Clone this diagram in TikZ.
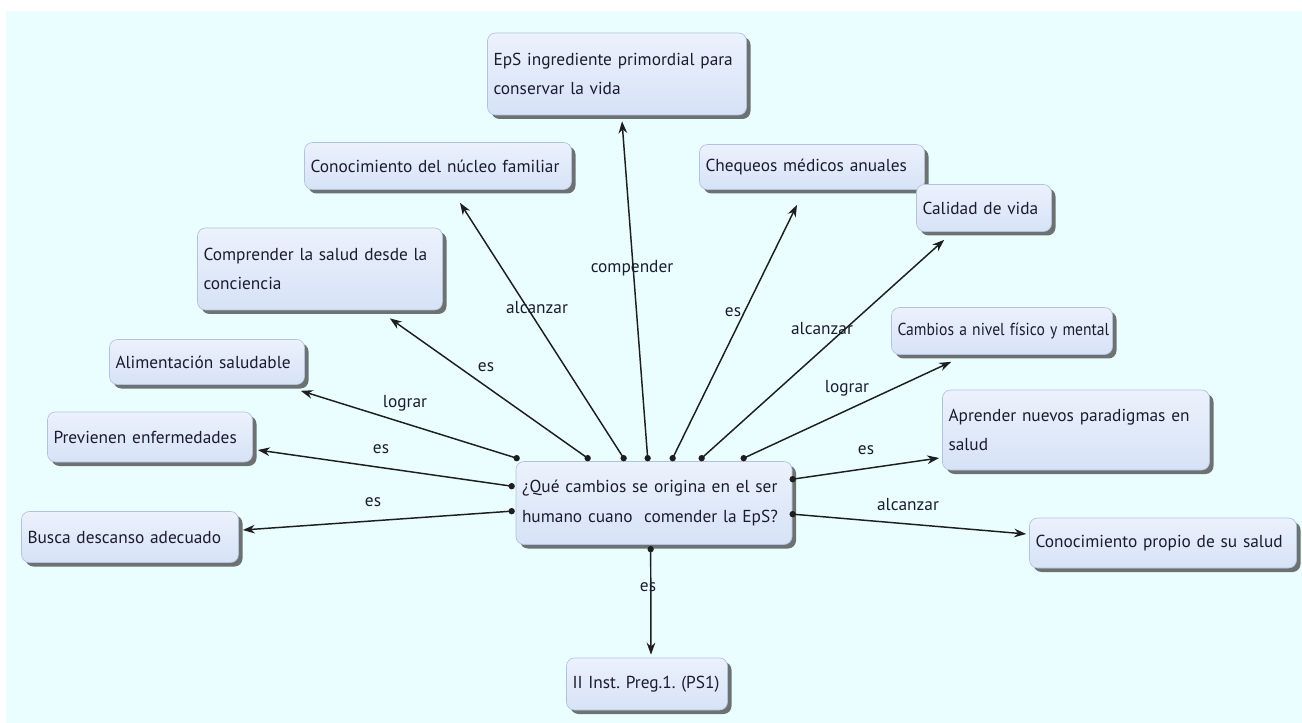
\documentclass[tikz,border=0pt]{standalone}
\usepackage{fontspec}
\setmainfont{PT Sans}
\usetikzlibrary{shadows,arrows.meta,calc}
\definecolor{bgcyan}{RGB}{234,254,255}
\definecolor{boxtop}{RGB}{236,242,252}
\definecolor{boxbot}{RGB}{214,226,246}
\definecolor{boxedge}{RGB}{176,194,222}
\definecolor{textc}{RGB}{28,28,48}
\definecolor{linec}{RGB}{30,30,30}
\tikzset{
  concept/.style={rectangle, rounded corners=6pt, draw=boxedge, line width=0.5pt,
    top color=boxtop, bottom color=boxbot, text=textc, align=left,
    inner xsep=4.5pt, inner ysep=2pt,
    drop shadow={shadow xshift=3pt, shadow yshift=-3pt, fill=black!65, opacity=0.85}},
  cbox/.style n args={2}{concept, text width=#1pt, minimum height=#2pt},
  conn/.style={draw=linec, line width=1.1pt, -{Stealth[length=9pt,width=6.5pt]}},
  lbl/.style={text=textc, inner sep=1pt},
  dotmark/.style={fill=linec}
}
\begin{document}
\frenchspacing
\begin{tikzpicture}[x=0.75pt,y=-0.75pt,font=\fontsize{13}{22}\selectfont]
\useasboundingbox (0,0) rectangle (1302,723);
\fill[white] (0,0) rectangle (1302,723);
\fill[bgcyan] (6,11) rectangle (1302,723);

% central question
\node[cbox={198}{62.25}] (q) at (654,503)
  {\mbox{¿Qué cambios se origina en el ser}\\\mbox{humano cuano\ \ comender la EpS?}};

% surrounding concepts
\node[cbox={185.25}{61.5}] (eps) at (617,74) {\mbox{EpS ingrediente primordial para}\\conservar la vida};
\node[cbox={191.25}{35.25}] (nuc) at (438,166) {\mbox{Conocimiento del núcleo familiar}};
\node[cbox={159.75}{33.75}] (cheq) at (812,167) {\mbox{Chequeos médicos anuales}};
\node[cbox={92.25}{35.25}] (cal) at (984,208) {\mbox{Calidad de vida}};
\node[cbox={174.75}{61.5}] (comp) at (320,269) {\mbox{Comprender la salud desde la}\\conciencia};
\node[cbox={137.25}{33.75}] (alim) at (207,362) {\mbox{Alimentación saludable}};
\node[cbox={156.75}{35.25}] (cam) at (1002,331) {\scalebox{0.9}[1]{Cambios a nivel físico y mental}};
\node[cbox={144.75}{37.5}] (prev) at (150,437) {\mbox{Previenen enfermedades}};
\node[cbox={191.25}{60}] (apr) at (1076,430) {\mbox{Aprender nuevos paradigmas en}\\salud};
\node[cbox={153.75}{38.25}] (busca) at (130,537) {\mbox{Busca descanso adecuado}};
\node[cbox={191.25}{37.5}] (prop) at (1163,543) {\mbox{Conocimiento propio de su salud}};
\node[cbox={111.75}{39}] (inst) at (647,684) {\mbox{II Inst. Preg.1. (PS1)}};

% attachment points on the central box
\coordinate (dAlim)  at ([shift={(1,-3)}]q.north west);
\coordinate (dComp)  at ([shift={(72,-3)}]q.north west);
\coordinate (dNuc)   at ([shift={(108,-3)}]q.north west);
\coordinate (dEps)   at ([shift={(132,-3)}]q.north west);
\coordinate (dCheq)  at ([shift={(157,-3)}]q.north west);
\coordinate (dCal)   at ([shift={(186,-3)}]q.north west);
\coordinate (dCam)   at ([shift={(228,-3)}]q.north west);
\coordinate (dPrev)  at ([shift={(-4,25)}]q.north west);
\coordinate (dBusca) at ([shift={(-4,50)}]q.north west);
\coordinate (dApr)   at ([shift={(277,18)}]q.north west);
\coordinate (dProp)  at ([shift={(277,53)}]q.north west);
\coordinate (dInst)  at ([shift={(135,88)}]q.north west);

% connectors
\draw[conn] (dAlim)  -- ([shift={(-4,6)}]alim.south east);
\draw[conn] (dComp)  -- ([shift={(-53,8)}]comp.south east);
\draw[conn] (dNuc)   -- ([shift={(22,13)}]nuc.south);
\draw[conn] (dEps)   -- ([shift={(5,6)}]eps.south);
\draw[conn] (dCheq)  -- ([shift={(-15,15)}]cheq.south);
\draw[conn] (dCal)   -- ([shift={(28,8)}]cal.south west);
\draw[conn] (dCam)   -- ([shift={(60,7)}]cam.south west);
\draw[conn] (dPrev)  -- ([shift={(5,13)}]prev.east);
\draw[conn] (dBusca) -- ([shift={(4,-7)}]busca.east);
\draw[conn] (dApr)   -- ([shift={(-3,28)}]apr.west);
\draw[conn] (dProp)  -- ([shift={(-3,-9)}]prop.west);
\draw[conn] (dInst)  -- ([shift={(4,-3)}]inst.north);

\foreach \d in {dAlim,dComp,dNuc,dEps,dCheq,dCal,dCam,dPrev,dBusca,dApr,dProp,dInst}
  \fill[dotmark] (\d) circle[radius=2.4pt];

% link labels
\node[lbl] (lAlim)  at (405,403) {lograr};
\node[lbl] (lComp)  at (486,367) {es};
\node[lbl] (lNuc)   at (537,308) {alcanzar};
\node[lbl] (lEps)   at (632,268) {compender};
\node[lbl] (lCheq)  at (733,312) {es};
\node[lbl] (lCal)   at (822,329) {alcanzar};
\node[lbl] (lCam)   at (847,388) {lograr};
\node[lbl] (lPrev)  at (381,449) {es};
\node[lbl] (lBusca) at (373,502) {es};
\node[lbl] (lApr)   at (866,450) {es};
\node[lbl] (lProp)  at (908,505) {alcanzar};
\node[lbl] (lInst)  at (648,587) {es};
\end{tikzpicture}
\end{document}
